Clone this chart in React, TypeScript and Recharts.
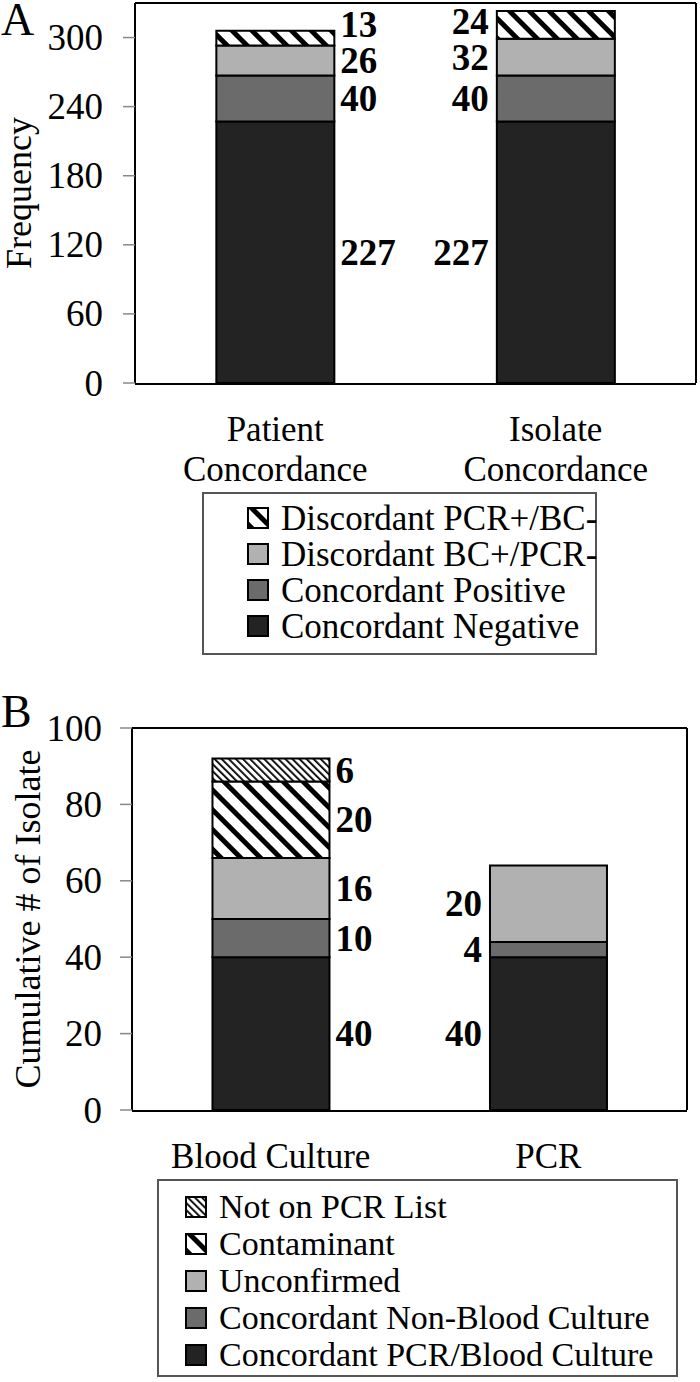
import React from 'react';
import { BarChart, Bar, XAxis, YAxis, LabelList, Label } from 'recharts';

const FONT = '"Liberation Serif", "Times New Roman", Times, serif';

// Panel A: concordance frequencies
const concordanceCategories = ['Patient\nConcordance', 'Isolate\nConcordance'];
const concordantNegative = [227, 227];
const concordantPositive = [40, 40];
const discordantBcPcr = [26, 32];
const discordantPcrBc = [13, 24];
const frequencyTicks = [0, 60, 120, 180, 240, 300];
const frequencyMax = 330;

// Panel B: cumulative isolates
const isolateCategories = ['Blood Culture', 'PCR'];
const concordantPcrBc = [40, 40];
const concordantNonBc = [10, 4];
const unconfirmed = [16, 20];
const contaminant = [20, 0];
const notOnPcrList = [6, 0];
const isolateTicks = [0, 20, 40, 60, 80, 100];
const isolateMax = 100;

const dataA = concordanceCategories.map((name, i) => ({
  name,
  neg: concordantNegative[i],
  pos: concordantPositive[i],
  bcPcr: discordantBcPcr[i],
  pcrBc: discordantPcrBc[i],
}));

const dataB = isolateCategories.map((name, i) => ({
  name,
  both: concordantPcrBc[i],
  nonBc: concordantNonBc[i],
  unconf: unconfirmed[i],
  contam: contaminant[i],
  notList: notOnPcrList[i],
}));

type Series = { key: string; name: string; fill: string };

const seriesA: Series[] = [
  { key: 'neg', name: 'Concordant Negative', fill: '#232323' },
  { key: 'pos', name: 'Concordant Positive', fill: '#6b6b6b' },
  { key: 'bcPcr', name: 'Discordant BC+/PCR-', fill: '#b1b1b1' },
  { key: 'pcrBc', name: 'Discordant PCR+/BC-', fill: 'url(#hatchWide)' },
];

const seriesB: Series[] = [
  { key: 'both', name: 'Concordant PCR/Blood Culture', fill: '#232323' },
  { key: 'nonBc', name: 'Concordant Non-Blood Culture', fill: '#6b6b6b' },
  { key: 'unconf', name: 'Unconfirmed', fill: '#b1b1b1' },
  { key: 'contam', name: 'Contaminant', fill: 'url(#hatchWide)' },
  { key: 'notList', name: 'Not on PCR List', fill: 'url(#hatchFine)' },
];

const CategoryTick = (props: any) => {
  const { x, y, payload } = props;
  const lines = String(payload.value).split('\n');
  return (
    <text x={x} y={y} textAnchor="middle" fontFamily={FONT} fontSize={35} fill="#000">
      {lines.map((l, i) => (
        <tspan key={i} x={x} dy={i === 0 ? 58 : 40}>{l}</tspan>
      ))}
    </text>
  );
};

const ValueTick = (props: any) => {
  const { x, y, payload } = props;
  return (
    <text x={x} y={y} textAnchor="end" dominantBaseline="central" fontFamily={FONT} fontSize={37} fill="#000">
      {payload.value}
    </text>
  );
};

// first bar gets its numbers on the right, second bar on the left;
// a label sitting too close to the one below it is nudged upwards
const makeValueLabel = (data: any[], series: Series[], k: number) => (props: any) => {
  const vb = props.viewBox || {};
  const x = Number(props.x ?? vb.x);
  const y0 = Number(props.y ?? vb.y);
  const width = Number(props.width ?? vb.width);
  const h0 = Number(props.height ?? vb.height);
  const value = Number(props.value);
  const index = Number(props.index ?? 0);
  if (!value) return null;
  const h = Math.abs(h0);
  const top = Math.min(y0, y0 + h0);
  let cy = top + h / 2;
  if (k > 0) {
    const below = Number(data[index]?.[series[k - 1].key] ?? 0);
    if (below > 0) {
      const belowCy = top + h + (below * h) / value / 2;
      if (belowCy - cy < 36) cy = belowCy - 36;
    }
  }
  const right = index === 0;
  return (
    <text
      x={right ? x + width + 6 : x - 8}
      y={cy}
      textAnchor={right ? 'start' : 'end'}
      dominantBaseline="central"
      fontFamily={FONT}
      fontWeight="bold"
      fontSize={37}
      fill="#000"
    >
      {value}
    </text>
  );
};

const yTitle = (text: string, bx: number) => (props: any) => {
  const vb = props.viewBox;
  const cy = vb.y + vb.height / 2;
  return (
    <text x={bx} y={cy} transform={`rotate(-90 ${bx} ${cy})`} textAnchor="middle"
      fontFamily={FONT} fontSize={36} fill="#000">
      {text}
    </text>
  );
};

interface PanelProps {
  data: any[];
  series: Series[];
  yMax: number;
  ticks: number[];
  title: string;
  titleX: number;
  height: number;
  margin: { top: number; right: number; left: number; bottom: number };
  yWidth: number;
  tickGap: number;
}

const StackPanel: React.FC<PanelProps> = ({ data, series, yMax, ticks, title, titleX, height, margin, yWidth, tickGap }) => (
  <BarChart width={700} height={height} data={data} margin={margin} barCategoryGap="29%">
    <XAxis xAxisId="bounds" type="number" domain={[0, data.length]} ticks={data.map((_, i) => i).concat(data.length)}
      allowDataOverflow height={1} tick={false} tickSize={12}
      tickLine={{ stroke: '#888', strokeWidth: 1.5 }} axisLine={{ stroke: '#000', strokeWidth: 2 }} />
    <XAxis dataKey="name" height={1} axisLine={false} tickLine={false} tickSize={0} tickMargin={0}
      tick={<CategoryTick />} interval={0} />
    <XAxis xAxisId="top" orientation="top" type="number" domain={[0, 1]} allowDataOverflow height={1}
      tick={false} tickLine={false} axisLine={{ stroke: '#000', strokeWidth: 2 }} />
    <YAxis type="number" domain={[0, yMax]} ticks={ticks} interval={0} allowDataOverflow width={yWidth}
      tickSize={12} tickMargin={tickGap}
      tickLine={{ stroke: '#888', strokeWidth: 1.5 }} axisLine={{ stroke: '#000', strokeWidth: 2 }}
      tick={<ValueTick />}>
      <Label content={yTitle(title, titleX)} />
    </YAxis>
    <YAxis yAxisId="right" orientation="right" type="number" domain={[0, 1]} allowDataOverflow width={1}
      tick={false} tickLine={false} axisLine={{ stroke: '#000', strokeWidth: 2 }} />
    {series.map((s, k) => (
      <Bar key={s.key} dataKey={s.key} name={s.name} stackId="s" fill={s.fill} stroke="#000" strokeWidth={2}
        isAnimationActive={false}>
        <LabelList dataKey={s.key} content={makeValueLabel(data, series, k)} />
      </Bar>
    ))}
  </BarChart>
);

const Swatch = ({ fill }: { fill: string }) => (
  <svg width={22} height={22} style={{ flex: 'none', marginRight: 12 }}>
    <rect x={1} y={1} width={20} height={20} fill={fill} stroke="#000" strokeWidth={2} />
  </svg>
);

const LegendBox = ({ series, style, rowH, fontSize }: { series: Series[]; style: React.CSSProperties; rowH: number; fontSize: number }) => (
  <div style={{ position: 'absolute', boxSizing: 'border-box', border: '2px solid #555', background: '#fff', ...style }}>
    {[...series].reverse().map((s) => (
      <div key={s.key} style={{ display: 'flex', alignItems: 'center', height: rowH }}>
        <Swatch fill={s.fill} />
        <span style={{ fontFamily: FONT, fontSize, lineHeight: 1, whiteSpace: 'nowrap', color: '#000' }}>{s.name}</span>
      </div>
    ))}
  </div>
);

export default function App() {
  return (
    <div style={{ position: 'absolute', left: 0, top: 0, width: 700, height: 1382, background: '#fff', overflow: 'hidden' }}>
      <svg width={700} height={1382} style={{ position: 'absolute', left: 0, top: 0 }}>
        <defs>
          <pattern id="hatchWide" patternUnits="userSpaceOnUse" width={14} height={14} patternTransform="rotate(-45)">
            <rect width={14} height={14} fill="#fff" />
            <rect x={0} y={0} width={5} height={14} fill="#000" />
          </pattern>
          <pattern id="hatchFine" patternUnits="userSpaceOnUse" width={5} height={5} patternTransform="rotate(-45)">
            <rect width={5} height={5} fill="#fff" />
            <rect x={0} y={0} width={1.8} height={5} fill="#000" />
          </pattern>
        </defs>
        <text x={1} y={35} fontFamily={FONT} fontSize={46} fill="#000">A</text>
        <text x={1} y={727} fontFamily={FONT} fontSize={46} fill="#000">B</text>
      </svg>

      <div style={{ position: 'absolute', left: 0, top: 0 }}>
        <StackPanel data={dataA} series={seriesA} yMax={frequencyMax} ticks={frequencyTicks}
          title="Frequency" titleX={31} height={495}
          margin={{ top: 2, right: 3, left: 0, bottom: 110 }} yWidth={135} tickGap={20} />
      </div>
      <LegendBox series={seriesA} rowH={36} fontSize={35}
        style={{ left: 202, top: 492, width: 395, height: 163, paddingTop: 6, paddingLeft: 43 }} />

      <div style={{ position: 'absolute', left: 0, top: 680 }}>
        <StackPanel data={dataB} series={seriesB} yMax={isolateMax} ticks={isolateTicks}
          title="Cumulative # of Isolate" titleX={40} height={500}
          margin={{ top: 47, right: 12, left: 0, bottom: 68 }} yWidth={132} tickGap={18} />
      </div>
      <LegendBox series={seriesB} rowH={37} fontSize={34}
        style={{ left: 157, top: 1179, width: 521, height: 198, paddingTop: 7, paddingLeft: 26 }} />
    </div>
  );
}
